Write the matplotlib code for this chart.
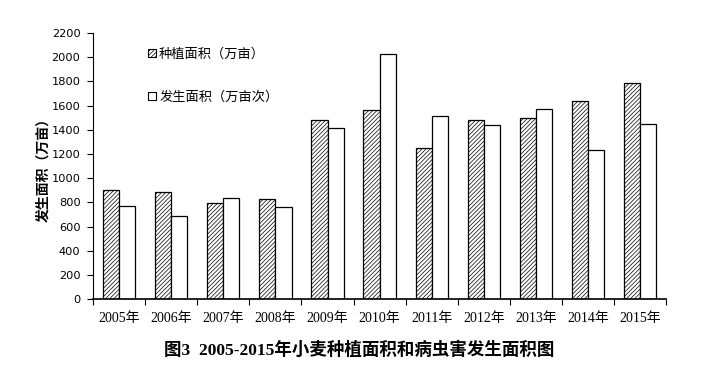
import numpy as np
import matplotlib
matplotlib.use("Agg")
import matplotlib.pyplot as plt
from matplotlib.patches import Patch

# data
years = ['2005年', '2006年', '2007年', '2008年', '2009年', '2010年',
         '2011年', '2012年', '2013年', '2014年', '2015年']
planted = [898, 885, 794, 827, 1480, 1563, 1249, 1480, 1497, 1638, 1783]
occurred = [766, 683, 835, 761, 1414, 2022, 1510, 1436, 1571, 1232, 1447]
y_ticks = np.arange(0, 2201, 200)

plt.rcParams['hatch.linewidth'] = 0.5
cjk = ['Liberation Serif', 'Noto Sans CJK SC']

fig = plt.figure(figsize=(7.05, 3.87), dpi=100)
ax = fig.add_axes([0.132, 0.227, 0.813, 0.688])

x = np.arange(len(years))
w = 0.31
ax.bar(x - w / 2, planted, w, color='white', edgecolor='black',
       hatch='////////', linewidth=0.9)
ax.bar(x + w / 2, occurred, w, color='white', edgecolor='black',
       linewidth=0.9)

ax.set_xlim(-0.5, len(years) - 0.5)
ax.set_ylim(0, 2200)
ax.set_yticks(y_ticks)
ax.set_yticklabels([str(v) for v in y_ticks], family='DejaVu Sans', fontsize=8.2)

# ticks on the boundaries between categories, labels at the centres
ax.set_xticks(np.arange(-0.5, len(years)), minor=False)
ax.set_xticklabels([])
ax.set_xticks(x, minor=True)
ax.set_xticklabels(years, minor=True, family=cjk, fontsize=10)
ax.tick_params(axis='x', which='minor', length=0, pad=9)
ax.tick_params(axis='x', which='major', length=4, direction='out', width=0.8)
ax.tick_params(axis='y', length=4, direction='out', width=0.8, pad=5)

ax.spines['top'].set_visible(False)
ax.spines['right'].set_visible(False)
ax.spines['bottom'].set_linewidth(1.2)
ax.spines['left'].set_linewidth(0.8)

ax.set_ylabel('发生面积（万亩）', family='Noto Sans CJK SC', fontweight='bold',
              fontsize=10, labelpad=1)

handles = [Patch(facecolor='white', edgecolor='black', hatch='////////', linewidth=0.8),
           Patch(facecolor='white', edgecolor='black', linewidth=0.8)]
leg = ax.legend(handles, ['种植面积（万亩）', '发生面积（万亩次）'],
                loc='upper left', bbox_to_anchor=(0.075, 0.99), frameon=False,
                handlelength=0.6, handleheight=0.6, handletextpad=0.25,
                labelspacing=2.3, prop={'family': 'Noto Sans CJK SC', 'size': 9.5})

fig.text(0.51, 0.095, '图3  2005-2015年小麦种植面积和病虫害发生面积图',
         ha='center', va='center', family=cjk, fontweight='bold', fontsize=12.6)

fig.savefig('out.png', dpi=100)
